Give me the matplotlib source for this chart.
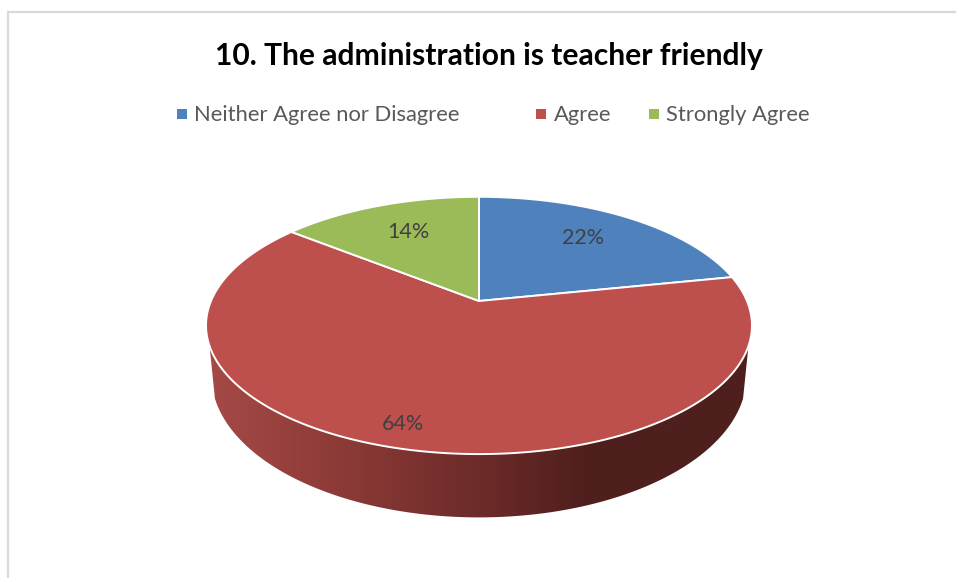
import numpy as np
import matplotlib
matplotlib.use("Agg")
import matplotlib.pyplot as plt
from matplotlib.colors import LinearSegmentedColormap
from matplotlib.patches import Polygon

plt.rcParams['font.family'] = ['Lato', 'DejaVu Sans']

title = "10. The administration is teacher friendly"
categories = ["Neither Agree nor Disagree", "Agree", "Strongly Agree"]
values = [21.8, 63.9, 14.3]
colors = ["#4f81bd", "#bd4f4c", "#9bbb59"]

# perspective settings for the tilted disc, in pixels
cx, cy = 479, 301
ax_x, ax_y, persp = 268, 124, 0.19


def rim(theta, scale_x=1.0, scale_y=1.0, drop=0):
    # theta is clockwise from 12 o'clock
    x = np.sin(theta)
    y = np.cos(theta)
    w = 1 + persp * y
    return cx + scale_x * ax_x * x / w, cy - scale_y * ax_y * y / w + drop


fig = plt.figure(figsize=(9.56, 5.78), dpi=100)
ax = fig.add_axes([0, 0, 1, 1])
ax.set_xlim(0, 956)
ax.set_ylim(578, 0)
ax.axis("off")

# chart frame, only left and top are in the crop
ax.plot([8, 8, 956], [578, 12, 12], color="#d9d9d9", lw=1.6, solid_joinstyle="miter")

# side of the disc
t = np.linspace(np.pi / 2, 3 * np.pi / 2, 300)
tx, ty = rim(t)
keep = ty >= 345
tx, ty = tx[keep], ty[keep]
bx, by = rim(t[keep], 0.98, 1.10, 48)
side = Polygon(np.r_[np.c_[tx, ty], np.c_[bx, by][::-1]], closed=True, fc="none", ec="none")
ax.add_patch(side)
cmap = LinearSegmentedColormap.from_list(
    "side", [(0, "#a54a46"), (0.25, "#8c3a37"), (0.52, "#6a2a28"), (0.70, "#4e1f1d"), (1, "#4e1f1d")])
img = ax.imshow(np.linspace(0, 1, 540).reshape(1, -1), cmap=cmap, aspect="auto",
                extent=[206, 752, 520, 340], zorder=1)
img.set_clip_path(side)
ax.set_xlim(0, 956)
ax.set_ylim(578, 0)

# top of the disc
angles = np.cumsum([0] + values) / sum(values) * 2 * np.pi
for i in range(len(values)):
    th = np.linspace(angles[i], angles[i + 1], 200)
    x, y = rim(th)
    ax.fill(np.r_[cx, x], np.r_[cy, y], fc=colors[i], ec="white", lw=1.4, zorder=2,
            joinstyle="round")

# percentage labels
label_xy = [(583, 237.5), (403, 424.5), (408, 231.5)]
for v, (lx, ly) in zip(values, label_xy):
    ax.text(lx, ly, f"{v:.0f}%", fontsize=15.5, color="#404040", ha="center", va="center", zorder=3)

ax.text(488.5, 55.5, title, fontsize=21.6, fontweight="bold", color="black", ha="center", va="center")

# legend
leg_x = [182, 541.5, 654]
for name, col, lx in zip(categories, colors, leg_x):
    ax.scatter([lx], [114], marker="s", s=62, color=col, linewidths=0)
    ax.text(lx + 12.5, 115, name, fontsize=15.85, color="#595959", ha="left", va="center")

fig.savefig("out.png", dpi=100)
